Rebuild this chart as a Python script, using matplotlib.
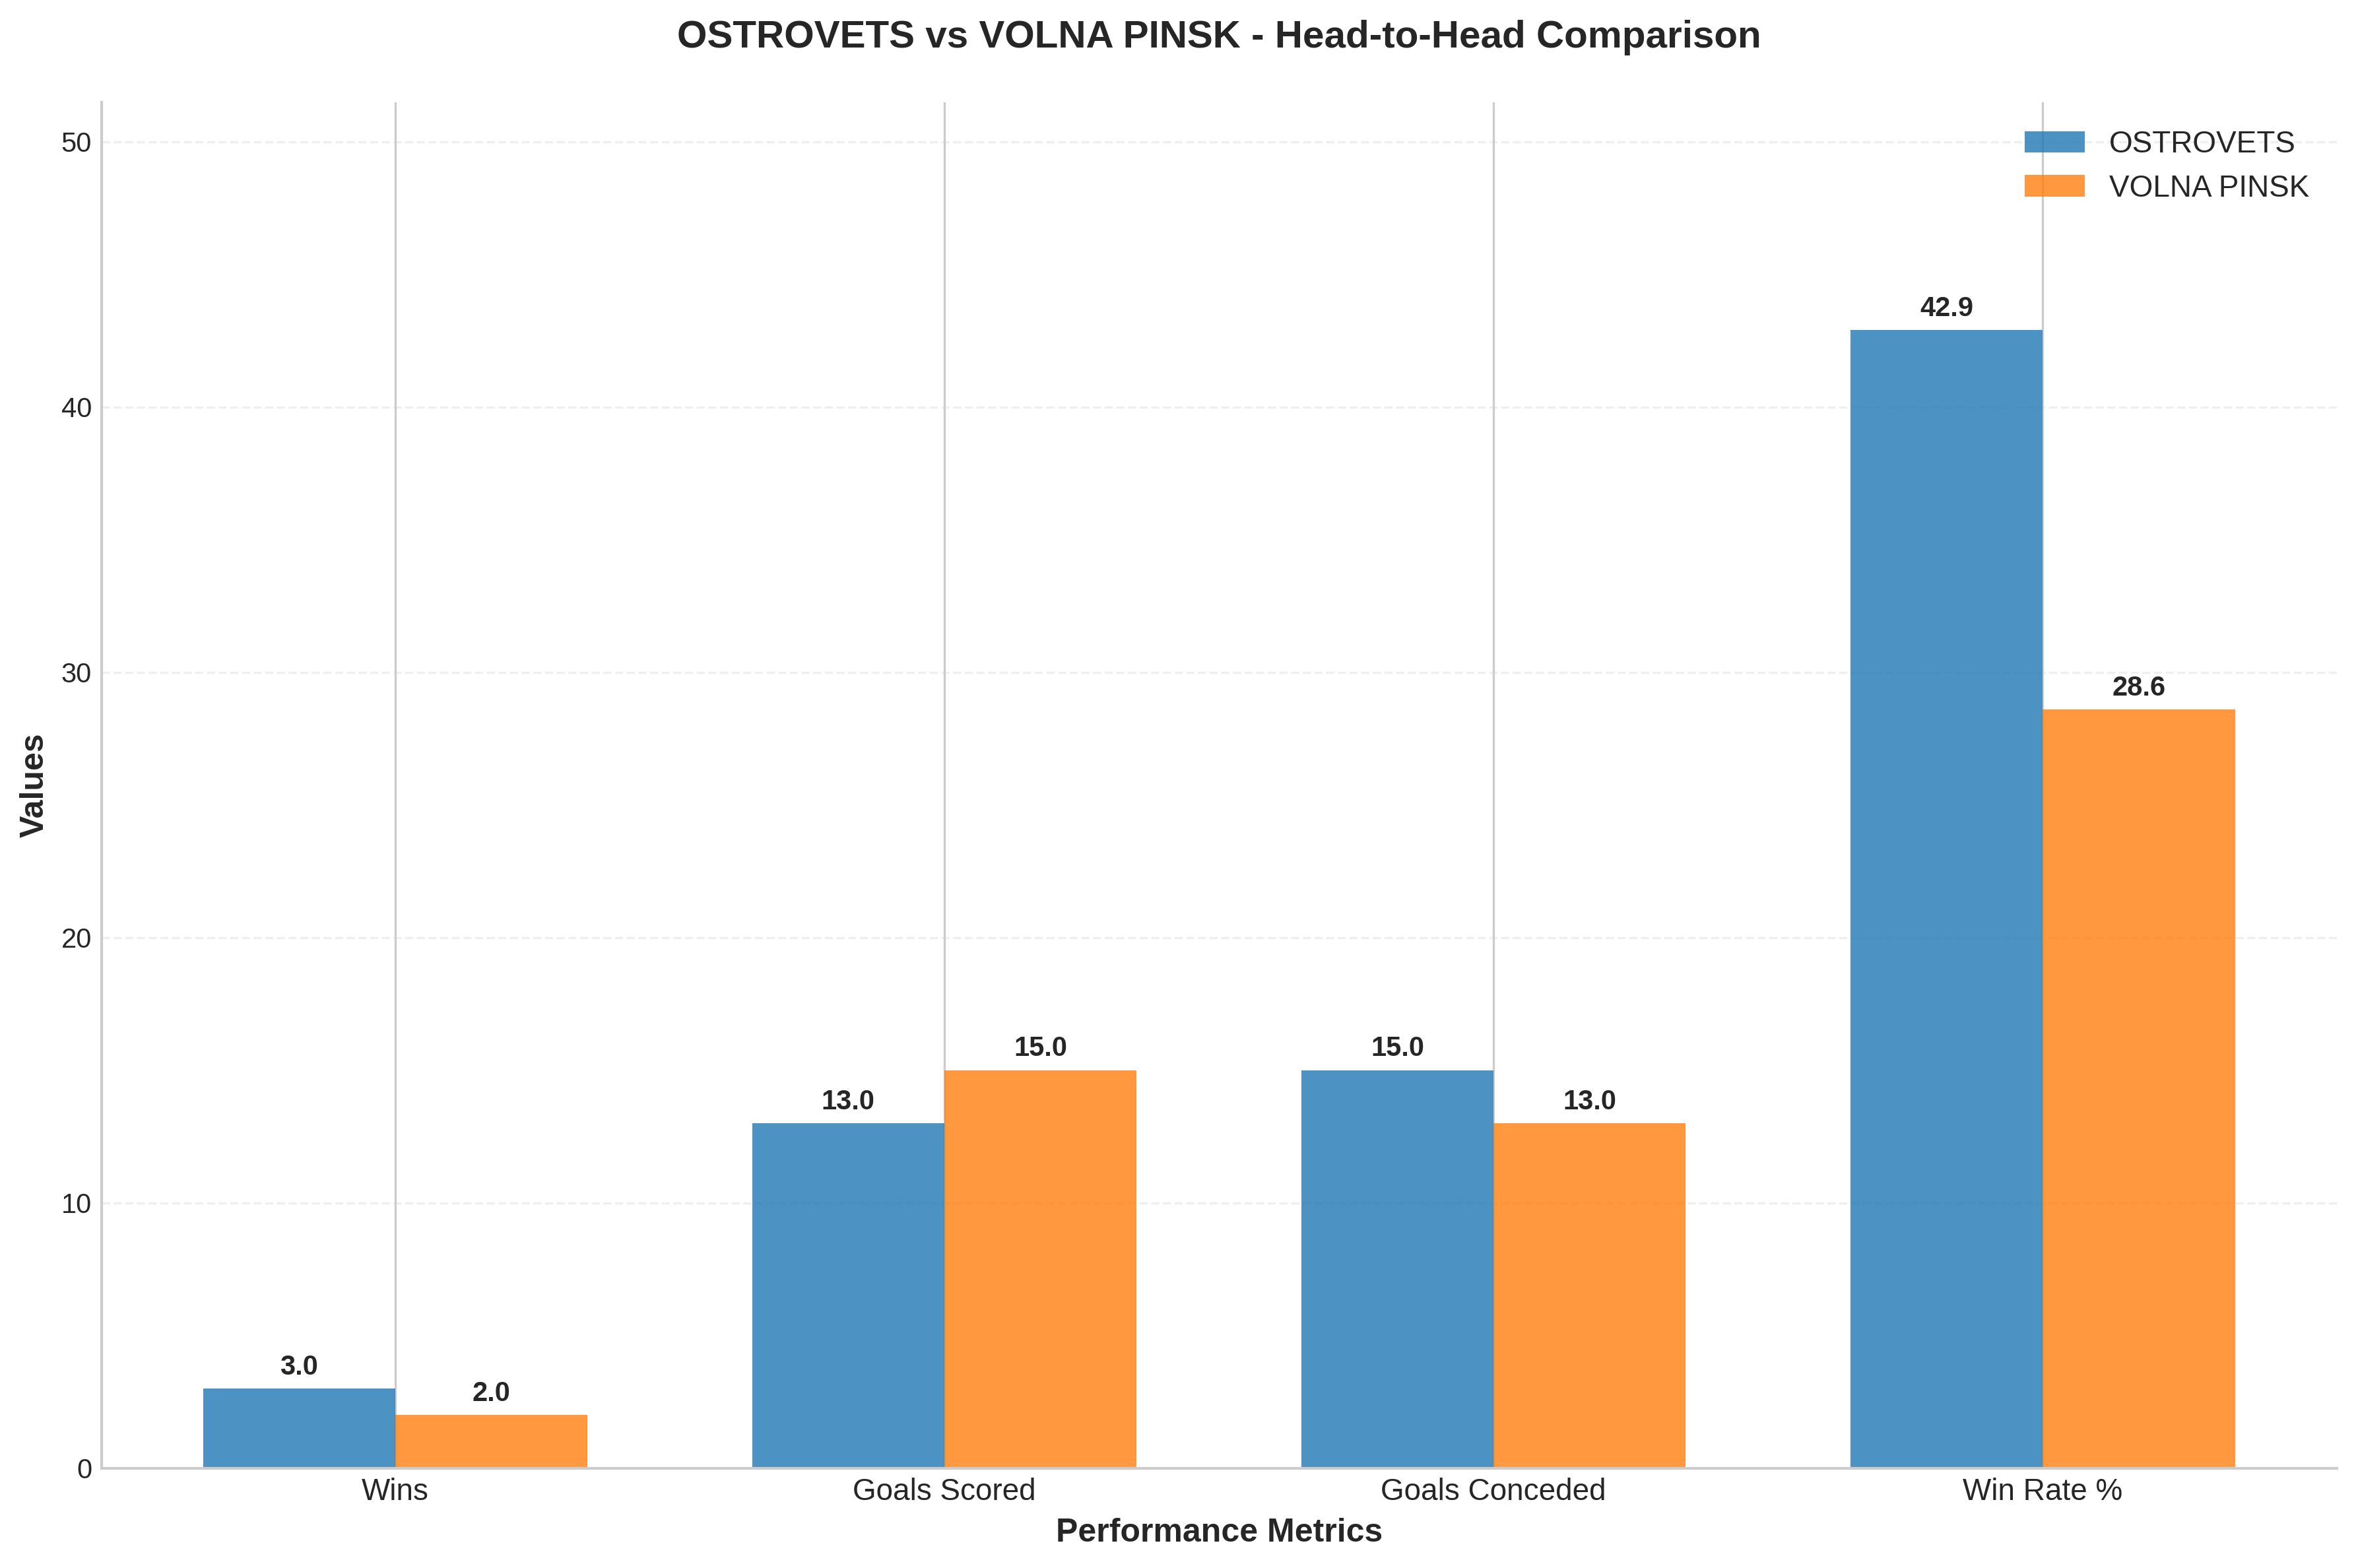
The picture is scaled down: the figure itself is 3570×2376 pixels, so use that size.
import numpy as np
import matplotlib.pyplot as plt

plt.style.use('seaborn-v0_8-whitegrid')
plt.rcParams['font.family'] = ['Liberation Sans', 'DejaVu Sans']

metrics = ['Wins', 'Goals Scored', 'Goals Conceded', 'Win Rate %']
ostrovets = [3.0, 13.0, 15.0, 42.9]
volna_pinsk = [2.0, 15.0, 13.0, 28.6]

x = np.arange(len(metrics))
width = 0.35

fig, ax = plt.subplots(figsize=(12, 8))

bars1 = ax.bar(x - width/2, ostrovets, width, label='OSTROVETS', color='#1f77b4', alpha=0.8)
bars2 = ax.bar(x + width/2, volna_pinsk, width, label='VOLNA PINSK', color='#ff7f0e', alpha=0.8)

# value labels on top of the bars
for bars in [bars1, bars2]:
    for bar in bars:
        h = bar.get_height()
        ax.annotate(f'{h:.1f}', xy=(bar.get_x() + bar.get_width()/2, h),
                    xytext=(0, 3), textcoords='offset points',
                    ha='center', va='bottom', fontweight='bold', fontsize=10)

ax.set_xlabel('Performance Metrics', fontsize=12, fontweight='bold')
ax.set_ylabel('Values', fontsize=12, fontweight='bold')
ax.set_title('OSTROVETS vs VOLNA PINSK - Head-to-Head Comparison', fontsize=14, fontweight='bold', pad=20)
ax.set_xticks(x)
ax.set_xticklabels(metrics, fontsize=11)
ax.legend(fontsize=11)
ax.grid(axis='y', alpha=0.3, linestyle='--')
ax.set_ylim(0, max(max(ostrovets), max(volna_pinsk)) * 1.2)
ax.spines['top'].set_visible(False)
ax.spines['right'].set_visible(False)

plt.tight_layout()
plt.savefig('out.png', dpi=300, bbox_inches='tight')
